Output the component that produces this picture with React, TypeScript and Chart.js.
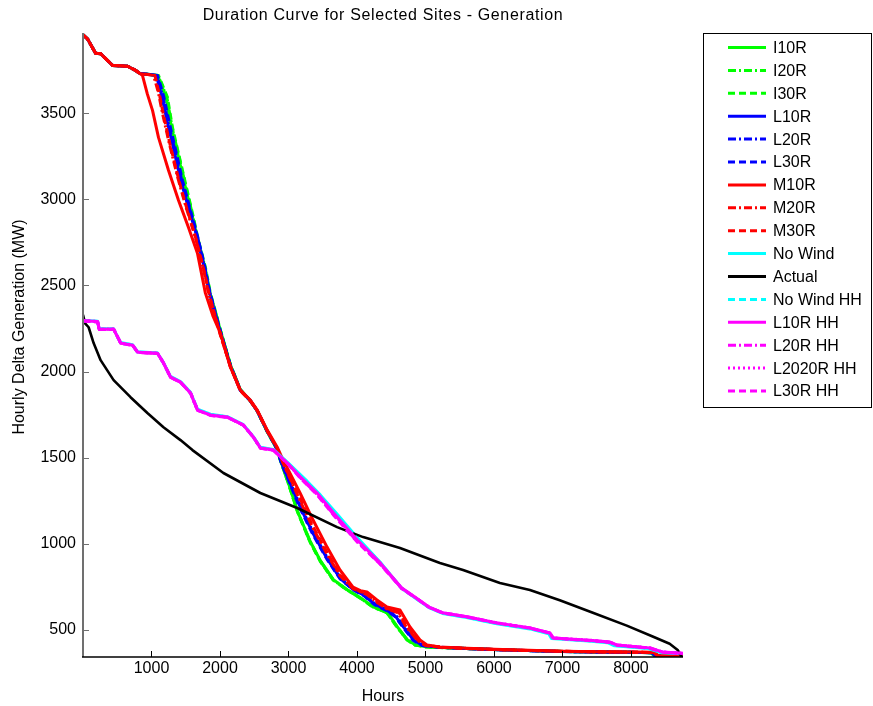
import React, { useEffect, useRef } from "react";
import { Chart, registerables } from "chart.js";
Chart.register(...registerables);

type P = [number, number];

// ---------- data ----------
const chartTitle = "Duration Curve for Selected Sites - Generation";
const xTitle = "Hours";
const yTitle = "Hourly Delta Generation (MW)";
const xTicks = [1000, 2000, 3000, 4000, 5000, 6000, 7000, 8000];
const yTicks = [500, 1000, 1500, 2000, 2500, 3000, 3500];
const xMin = 0;
const xMax = 8760;
const yMin = 343;
const yMax = 3965;

const seriesNames = [
  "I10R", "I20R", "I30R",
  "L10R", "L20R", "L30R",
  "M10R", "M20R", "M30R",
  "No Wind", "Actual", "No Wind HH",
  "L10R HH", "L20R HH", "L2020R HH", "L30R HH",
];

// common head of the wind duration curves
const windShelf: P[] = [[0, 3955], [67, 3930], [184, 3847], [257, 3845], [431, 3777], [650, 3772], [760, 3750], [830, 3730]];

const i10r: P[] = [[1085, 3719], [1210, 3595], [1290, 3420], [1380, 3270], [1480, 3095], [1585, 2920], [1675, 2765], [1775, 2605], [1850, 2455], [1935, 2340], [2006, 2238], [2152, 2038], [2297, 1894], [2443, 1831], [2545, 1771], [2690, 1652], [2836, 1547], [2885, 1484], [3005, 1345], [3135, 1185], [3320, 1012], [3466, 902], [3655, 792], [3860, 733], [4050, 687], [4240, 634], [4445, 600], [4590, 518], [4735, 443], [4850, 414], [5030, 401], [5600, 392], [6000, 386], [6500, 380], [7000, 375], [7500, 372], [8000, 370], [8290, 368], [8340, 350], [8760, 348]];
const i20r: P[] = [[1095, 3719], [1225, 3592], [1300, 3418], [1388, 3268], [1490, 3094], [1592, 2920], [1680, 2763], [1782, 2605], [1856, 2455], [1938, 2340], [2006, 2240], [2152, 2040], [2297, 1895], [2443, 1830], [2545, 1770], [2690, 1651], [2836, 1546], [2882, 1485], [3002, 1348], [3130, 1188], [3317, 1011], [3463, 901], [3653, 791], [3857, 732], [4046, 686], [4236, 633], [4440, 599], [4586, 517], [4732, 442], [4848, 413], [5025, 401], [5600, 392], [6000, 386], [6500, 380], [7000, 375], [7500, 372], [8000, 370], [8300, 368], [8345, 350], [8760, 348]];
const i30r: P[] = [[1102, 3719], [1233, 3591], [1306, 3417], [1394, 3267], [1496, 3093], [1598, 2919], [1685, 2762], [1787, 2605], [1860, 2455], [1940, 2340], [2006, 2240], [2152, 2040], [2297, 1895], [2443, 1830], [2545, 1770], [2690, 1650], [2836, 1545], [2880, 1486], [3000, 1350], [3128, 1190], [3315, 1010], [3461, 900], [3651, 790], [3855, 732], [4044, 686], [4234, 633], [4438, 599], [4584, 517], [4730, 442], [4846, 413], [5022, 401], [5600, 392], [6000, 386], [6500, 380], [7000, 375], [7500, 372], [8000, 370], [8300, 368], [8350, 350], [8760, 348]];

const l10r: P[] = [[1070, 3719], [1150, 3600], [1230, 3450], [1320, 3300], [1420, 3120], [1540, 2950], [1660, 2790], [1760, 2620], [1840, 2470], [1930, 2330], [2006, 2228], [2152, 2032], [2297, 1891], [2443, 1831], [2545, 1771], [2690, 1655], [2836, 1551], [2910, 1460], [3169, 1215], [3359, 1060], [3563, 915], [3752, 800], [3942, 736], [4100, 702], [4250, 652], [4438, 614], [4560, 580], [4680, 517], [4830, 440], [4960, 410], [5211, 400], [5600, 392], [6000, 386], [6500, 380], [7000, 375], [7500, 372], [8000, 370], [8310, 368], [8360, 350], [8760, 348]];
const l20r: P[] = [[1080, 3719], [1165, 3598], [1245, 3445], [1335, 3295], [1438, 3115], [1555, 2945], [1668, 2785], [1770, 2615], [1846, 2466], [1934, 2332], [2006, 2230], [2152, 2034], [2297, 1892], [2443, 1831], [2545, 1771], [2690, 1654], [2836, 1549], [2905, 1465], [3169, 1225], [3359, 1068], [3563, 922], [3752, 805], [3942, 738], [4100, 705], [4250, 655], [4438, 617], [4570, 585], [4690, 517], [4840, 440], [4970, 410], [5211, 400], [5600, 392], [6000, 386], [6500, 380], [7000, 375], [7500, 372], [8000, 370], [8315, 368], [8365, 350], [8760, 348]];
const l30r: P[] = [[1088, 3719], [1180, 3596], [1262, 3440], [1350, 3290], [1452, 3110], [1566, 2940], [1675, 2780], [1776, 2612], [1850, 2462], [1936, 2335], [2006, 2232], [2152, 2036], [2297, 1893], [2443, 1831], [2545, 1771], [2690, 1653], [2836, 1548], [2895, 1470], [3169, 1205], [3359, 1052], [3563, 910], [3752, 797], [3942, 734], [4100, 699], [4250, 648], [4438, 611], [4555, 578], [4670, 517], [4820, 440], [4950, 410], [5211, 400], [5600, 392], [6000, 386], [6500, 380], [7000, 375], [7500, 372], [8000, 370], [8305, 368], [8355, 350], [8760, 348]];

const m10r: P[] = [[868, 3719], [940, 3610], [1015, 3516], [1102, 3359], [1248, 3168], [1394, 2994], [1539, 2837], [1671, 2687], [1787, 2455], [1900, 2320], [2006, 2223], [2152, 2025], [2297, 1892], [2443, 1834], [2545, 1776], [2690, 1660], [2836, 1561], [2900, 1505], [3169, 1295], [3359, 1138], [3563, 981], [3752, 848], [3942, 749], [4050, 728], [4146, 720], [4292, 674], [4438, 633], [4628, 616], [4774, 517], [4920, 442], [5022, 413], [5211, 401], [5600, 394], [6000, 388], [6500, 382], [7000, 377], [7500, 374], [8000, 372], [8330, 370], [8380, 352], [8760, 350]];
const m20r: P[] = [[1030, 3719], [1100, 3620], [1160, 3500], [1250, 3340], [1380, 3130], [1500, 2960], [1640, 2780], [1760, 2590], [1830, 2460], [1920, 2330], [2006, 2215], [2152, 2030], [2297, 1890], [2443, 1830], [2545, 1772], [2690, 1655], [2836, 1555], [2920, 1470], [3169, 1250], [3359, 1090], [3563, 940], [3752, 815], [3942, 740], [4146, 705], [4292, 660], [4438, 622], [4600, 600], [4720, 517], [4880, 440], [5000, 410], [5211, 400], [5600, 393], [6000, 387], [6500, 381], [7000, 376], [7500, 373], [8000, 371], [8340, 369], [8390, 352], [8760, 350]];
const m30r: P[] = [[1050, 3719], [1120, 3600], [1180, 3480], [1270, 3320], [1400, 3110], [1520, 2940], [1650, 2770], [1770, 2580], [1840, 2450], [1930, 2320], [2006, 2212], [2152, 2028], [2297, 1889], [2443, 1829], [2545, 1771], [2690, 1654], [2836, 1553], [2915, 1475], [3169, 1262], [3359, 1100], [3563, 950], [3752, 822], [3942, 742], [4146, 708], [4292, 664], [4438, 625], [4610, 604], [4735, 517], [4890, 440], [5010, 410], [5211, 400], [5600, 392], [6000, 386], [6500, 381], [7000, 376], [7500, 373], [8000, 371], [8350, 369], [8400, 351], [8760, 349]];

const noWind: P[] = [[0, 2298], [213, 2292], [235, 2250], [447, 2248], [549, 2168], [723, 2156], [796, 2115], [1087, 2108], [1175, 2052], [1277, 1972], [1423, 1942], [1569, 1880], [1671, 1782], [1860, 1752], [2108, 1738], [2341, 1692], [2487, 1622], [2589, 1560], [2779, 1548], [2983, 1474], [3275, 1362], [3464, 1284], [3712, 1172], [4004, 1036], [4339, 893], [4650, 742], [4850, 686], [5050, 630], [5250, 596], [5600, 572], [6045, 536], [6525, 506], [6800, 478], [6840, 450], [7380, 436], [7660, 426], [7760, 408], [8250, 392], [8440, 368], [8760, 362]];

const actual: P[] = [[0, 2330], [30, 2280], [82, 2257], [155, 2165], [257, 2066], [447, 1950], [694, 1851], [940, 1759], [1175, 1677], [1423, 1602], [1598, 1544], [2050, 1411], [2589, 1295], [3128, 1208], [3710, 1097], [3900, 1068], [4090, 1039], [4628, 976], [5211, 889], [5549, 848], [6087, 773], [6525, 732], [6961, 672], [7444, 600], [7939, 525], [8317, 462], [8565, 420], [8682, 384], [8740, 343], [8760, 343]];

const noWindHH: P[] = [[0, 2296], [210, 2291], [232, 2248], [445, 2247], [547, 2166], [720, 2154], [794, 2113], [1085, 2107], [1173, 2050], [1275, 1969], [1421, 1940], [1567, 1877], [1669, 1779], [1858, 1749], [2106, 1736], [2339, 1690], [2485, 1620], [2587, 1558], [2777, 1546], [2981, 1471], [3273, 1358], [3462, 1280], [3710, 1166], [4002, 1030], [4337, 891], [4648, 744], [4848, 688], [5048, 632], [5248, 598], [5605, 574], [6043, 538], [6523, 509], [6805, 480], [6845, 452], [7390, 438], [7675, 428], [7775, 410], [8260, 394], [8450, 370], [8760, 363]];

const l10rHH: P[] = [[0, 2295], [213, 2290], [235, 2246], [447, 2246], [549, 2165], [723, 2153], [796, 2112], [1087, 2106], [1175, 2049], [1277, 1967], [1423, 1938], [1569, 1875], [1671, 1776], [1860, 1747], [2108, 1735], [2341, 1689], [2487, 1619], [2589, 1556], [2779, 1544], [2983, 1469], [3169, 1390], [3417, 1295], [3659, 1179], [4004, 1022], [4339, 889], [4650, 745], [4850, 690], [5050, 633], [5250, 600], [5607, 577], [6045, 541], [6525, 512], [6816, 483], [6860, 454], [7400, 440], [7691, 430], [7793, 413], [8274, 396], [8463, 372], [8760, 365]];
const l20rHH: P[] = [[0, 2294], [215, 2289], [238, 2245], [450, 2245], [552, 2164], [726, 2152], [799, 2111], [1090, 2105], [1178, 2048], [1280, 1966], [1426, 1937], [1572, 1874], [1674, 1775], [1863, 1746], [2111, 1734], [2344, 1688], [2490, 1618], [2592, 1555], [2782, 1543], [2986, 1466], [3172, 1384], [3420, 1286], [3662, 1168], [4007, 1012], [4342, 882], [4653, 741], [4853, 688], [5053, 632], [5253, 599], [5610, 576], [6048, 540], [6528, 511], [6820, 482], [6864, 453], [7405, 439], [7696, 429], [7798, 412], [8278, 395], [8467, 371], [8760, 364]];
const l2020rHH: P[] = [[0, 2296], [211, 2291], [233, 2247], [445, 2247], [547, 2166], [721, 2154], [794, 2113], [1085, 2107], [1173, 2050], [1275, 1968], [1421, 1939], [1567, 1876], [1669, 1777], [1858, 1748], [2106, 1736], [2339, 1690], [2485, 1620], [2587, 1557], [2777, 1545], [2981, 1470], [3167, 1388], [3415, 1292], [3657, 1175], [4002, 1018], [4337, 886], [4648, 744], [4848, 689], [5048, 633], [5248, 600], [5605, 577], [6043, 541], [6523, 512], [6814, 483], [6858, 454], [7398, 440], [7689, 430], [7791, 413], [8272, 396], [8461, 372], [8760, 365]];
const l30rHH: P[] = [[0, 2293], [216, 2288], [240, 2244], [452, 2244], [555, 2163], [729, 2151], [802, 2110], [1093, 2104], [1181, 2047], [1283, 1965], [1429, 1936], [1575, 1873], [1677, 1774], [1866, 1745], [2114, 1733], [2347, 1687], [2493, 1617], [2595, 1554], [2785, 1542], [2989, 1464], [3175, 1380], [3423, 1282], [3665, 1163], [4010, 1008], [4345, 879], [4656, 739], [4856, 687], [5056, 631], [5256, 598], [5613, 575], [6051, 539], [6531, 510], [6824, 481], [6868, 452], [7410, 438], [7700, 428], [7802, 411], [8282, 394], [8470, 370], [8760, 363]];

// ---------- styles ----------
const GREEN = "#00ff00", BLUE = "#0000ff", RED = "#ff0000", CYAN = "#00ffff", BLACK = "#000000", MAGENTA = "#ff00ff";
const SOLID: number[] = [], DASHDOT = [8, 3, 2, 3], DASHED = [7, 4], DOTTED = [2, 3];
const seriesColors = [GREEN, GREEN, GREEN, BLUE, BLUE, BLUE, RED, RED, RED, CYAN, BLACK, CYAN, MAGENTA, MAGENTA, MAGENTA, MAGENTA];
const seriesDashes = [SOLID, DASHDOT, DASHED, SOLID, DASHDOT, DASHED, SOLID, DASHDOT, DASHED, SOLID, SOLID, DASHED, SOLID, DASHDOT, DOTTED, DASHED];
const seriesWidths = [3, 3, 3, 3, 3, 3, 3, 3, 3, 3, 2.6, 3, 3, 3, 3, 3];

const windTails = [i10r, i20r, i30r, l10r, l20r, l30r, m10r, m20r, m30r];
const seriesPoints: P[][] = [
  ...windTails.map((t) => [...windShelf, ...t]),
  noWind, actual, noWindHH, l10rHH, l20rHH, l2020rHH, l30rHH,
];

const FONT = '"Liberation Sans", Arial, Helvetica, sans-serif';

const decorPlugin = {
  id: "decor",
  afterDraw(chart: any) {
    const { ctx, chartArea: ca } = chart;
    const xs = chart.scales.x, ys = chart.scales.y;
    ctx.save();
    // axes lines
    ctx.setLineDash([]);
    ctx.strokeStyle = "#707070";
    ctx.lineWidth = 2;
    ctx.beginPath();
    ctx.moveTo(ca.left, ca.top);
    ctx.lineTo(ca.left, ca.bottom);
    ctx.stroke();
    ctx.lineWidth = 1;
    for (const v of yTicks) {
      const py = Math.round(ys.getPixelForValue(v)) + 0.5;
      ctx.beginPath();
      ctx.moveTo(ca.left, py);
      ctx.lineTo(ca.left + 6, py);
      ctx.stroke();
    }
    ctx.strokeStyle = "#000";
    ctx.lineWidth = 1.5;
    ctx.beginPath();
    ctx.moveTo(ca.left - 1, ca.bottom);
    ctx.lineTo(ca.right, ca.bottom);
    ctx.stroke();
    ctx.lineWidth = 1;
    for (const v of xTicks) {
      const px = Math.round(xs.getPixelForValue(v)) + 0.5;
      ctx.beginPath();
      ctx.moveTo(px, ca.bottom);
      ctx.lineTo(px, ca.bottom - 6);
      ctx.stroke();
    }
    // title
    ctx.fillStyle = "#000";
    ctx.font = `16px ${FONT}`;
    ctx.textAlign = "center";
    ctx.textBaseline = "middle";
    try { (ctx as any).letterSpacing = "0.65px"; } catch (e) {}
    ctx.fillText(chartTitle, (ca.left + ca.right) / 2, 16);
    try { (ctx as any).letterSpacing = "0px"; } catch (e) {}
    // y title
    ctx.save();
    ctx.translate(20, 327);
    ctx.rotate(-Math.PI / 2);
    ctx.fillText(yTitle, 0, 0);
    ctx.restore();
    // legend
    const bx = 703, by = 33, bw = 168, bh = 374;
    ctx.strokeStyle = "#000";
    ctx.lineWidth = 1;
    ctx.strokeRect(bx + 0.5, by + 0.5, bw, bh);
    ctx.textAlign = "left";
    seriesNames.forEach((name, i) => {
      const yy = 47.5 + i * 22.9;
      ctx.strokeStyle = seriesColors[i];
      ctx.lineWidth = 3;
      ctx.setLineDash(seriesDashes[i]);
      ctx.beginPath();
      ctx.moveTo(728, yy);
      ctx.lineTo(766, yy);
      ctx.stroke();
      ctx.setLineDash([]);
      ctx.fillStyle = "#000";
      ctx.fillText(name, 773, yy + 1);
    });
    ctx.restore();
  },
};

export default function App() {
  const ref = useRef<HTMLCanvasElement | null>(null);
  useEffect(() => {
    if (!ref.current) return;
    const n = seriesNames.length;
    const chart = new Chart(ref.current, {
      type: "line",
      data: {
        datasets: seriesNames.map((name, i) => ({
          label: name,
          data: seriesPoints[i].map(([x, y]) => ({ x, y })),
          borderColor: seriesColors[i],
          backgroundColor: seriesColors[i],
          borderWidth: seriesWidths[i],
          borderDash: seriesDashes[i],
          pointRadius: 0,
          fill: false,
          tension: 0,
          borderJoinStyle: "round" as const,
          order: n - i,
        })),
      },
      options: {
        animation: false,
        responsive: false,
        devicePixelRatio: 1,
        events: [],
        layout: { padding: { left: 0, top: 33, right: 190, bottom: 0 } },
        plugins: { legend: { display: false }, title: { display: false }, tooltip: { enabled: false } },
        scales: {
          x: {
            type: "linear",
            min: xMin,
            max: xMax,
            grid: { display: false, drawTicks: false },
            border: { display: false },
            afterBuildTicks: (s: any) => { s.ticks = xTicks.map((v) => ({ value: v })); },
            afterFit: (s: any) => { s.height = 49; },
            ticks: { color: "#000", font: { family: FONT, size: 16 }, padding: 2, maxRotation: 0, autoSkip: false, callback: (v: any) => String(v) },
            title: { display: true, text: xTitle, color: "#000", font: { family: FONT, size: 16 }, padding: { top: 0, bottom: 0 } },
          },
          y: {
            type: "linear",
            min: yMin,
            max: yMax,
            grid: { display: false, drawTicks: false },
            border: { display: false },
            afterBuildTicks: (s: any) => { s.ticks = yTicks.map((v) => ({ value: v })); },
            afterFit: (s: any) => { s.width = 83; },
            ticks: { color: "#000", font: { family: FONT, size: 16 }, padding: 7, autoSkip: false, callback: (v: any) => String(v) },
          },
        },
      },
      plugins: [decorPlugin],
    });
    return () => chart.destroy();
  }, []);
  return (
    <div style={{ position: "absolute", left: 0, top: 0, width: 873, height: 706, background: "#fff" }}>
      <canvas ref={ref} width={873} height={706} style={{ display: "block", width: 873, height: 706 }} />
    </div>
  );
}
